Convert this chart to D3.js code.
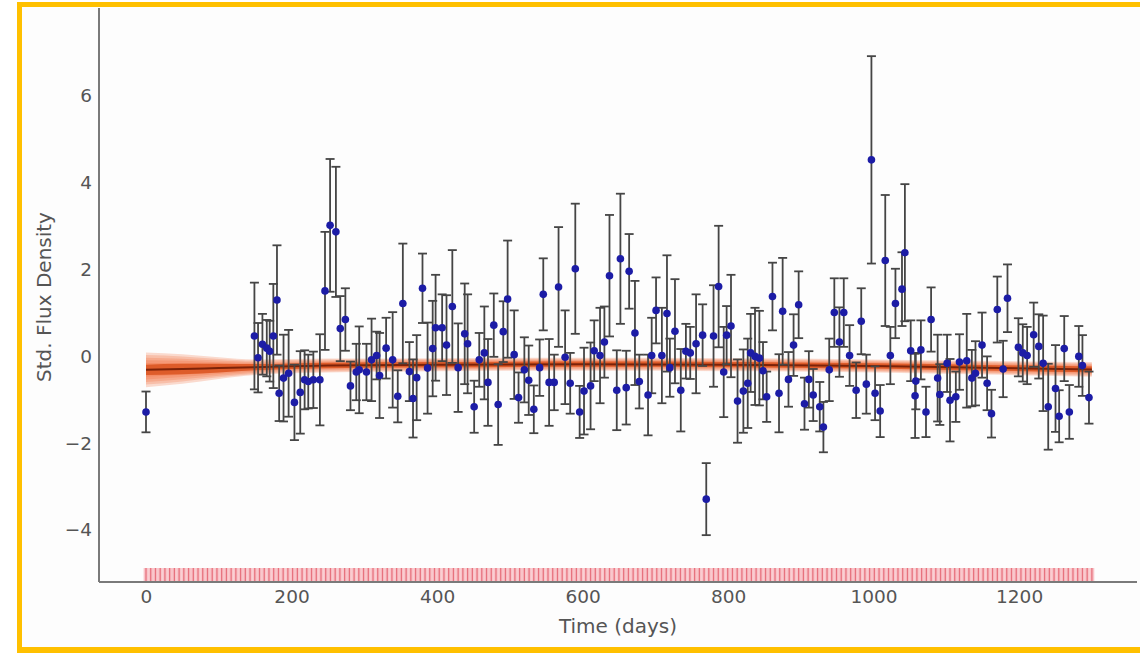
<!DOCTYPE html>
<html><head><meta charset="utf-8">
<script src="https://cdn.jsdelivr.net/npm/d3@7"></script>
<style>html,body{margin:0;padding:0;background:#fff;}svg{display:block;}</style>
</head><body>
<svg id="chart" width="1140" height="653"></svg>
<script>
// ---- data ----
const obsDays = [0,149,154,160,166,170,175,180,183,189,196,204,212,218,223,230,239,246,253,261,267,274,281,289,293,303,310,317,321,330,339,346,353,362,367,372,380,387,394,398,407,413,421,429,438,442,451,458,465,470,478,484,491,497,506,512,520,526,533,541,546,554,561,567,576,583,590,596,602,611,616,624,630,637,647,652,660,664,672,678,690,695,701,709,716,720,727,735,742,748,756,765,770,780,787,794,798,804,813,821,827,831,837,843,848,853,861,870,875,883,890,897,905,911,917,926,931,939,946,953,959,967,976,983,990,997,1002,1009,1016,1023,1030,1039,1043,1051,1057,1058,1065,1072,1079,1088,1091,1101,1105,1113,1118,1128,1135,1140,1149,1156,1162,1170,1178,1184,1199,1205,1211,1220,1227,1233,1240,1250,1255,1262,1269,1282,1287,1296];
const obsFlux = [-1.28,0.47,-0.03,0.28,0.19,0.12,0.47,1.30,-0.85,-0.50,-0.39,-1.06,-0.83,-0.54,-0.58,-0.54,-0.54,1.51,3.02,2.87,0.64,0.85,-0.68,-0.36,-0.31,-0.36,-0.08,0.02,-0.44,0.19,-0.08,-0.92,1.22,-0.35,-0.97,-0.49,1.57,-0.27,0.18,0.66,0.66,0.26,1.15,-0.26,0.52,0.29,-1.16,-0.08,0.08,-0.60,0.72,-1.11,0.57,1.32,0.04,-0.95,-0.31,-0.55,-1.22,-0.26,1.43,-0.60,-0.60,1.60,-0.02,-0.62,2.02,-1.28,-0.80,-0.68,0.13,0.02,0.33,1.86,-0.78,2.25,-0.72,1.96,0.54,-0.58,-0.89,0.02,1.06,0.02,0.99,-0.26,0.58,-0.78,0.12,0.08,0.29,0.49,-3.29,0.47,1.61,-0.36,0.49,0.70,-1.03,-0.80,-0.62,0.08,0.00,-0.04,-0.33,-0.93,1.38,-0.85,1.04,-0.53,0.26,1.19,-1.09,-0.53,-0.89,-1.16,-1.63,-0.31,1.01,0.33,1.01,0.02,-0.78,0.81,-0.64,4.53,-0.85,-1.26,2.21,0.02,1.22,1.55,2.39,0.13,-0.91,-0.57,0.15,-1.28,0.85,-0.50,-0.88,-0.16,-1.01,-0.93,-0.13,-0.10,-0.50,-0.39,0.26,-0.62,-1.32,1.08,-0.29,1.34,0.21,0.08,0.02,0.50,0.23,-0.16,-1.16,-0.74,-1.38,0.18,-1.28,0.00,-0.21,-0.95];
const obsErr = [0.47,1.23,0.80,0.70,0.65,0.70,1.20,1.26,0.64,1.00,1.00,0.87,0.95,0.68,0.62,0.65,1.05,1.36,1.53,1.50,0.75,0.72,0.56,0.65,1.00,0.65,0.95,0.55,0.98,0.70,1.10,0.60,1.38,0.68,0.90,0.98,0.80,1.05,1.10,1.22,0.77,1.15,1.30,1.02,1.16,1.14,0.60,0.62,1.07,1.00,0.73,0.93,0.70,1.35,1.02,0.58,0.75,0.80,0.55,0.65,0.83,1.00,0.64,1.38,1.08,0.70,1.50,0.60,1.00,1.00,0.70,1.10,0.82,1.40,0.92,1.50,0.85,0.86,1.20,0.62,0.93,0.87,0.76,1.10,1.34,0.67,1.20,0.95,0.63,0.60,1.14,0.71,0.83,1.17,1.40,1.04,0.67,1.18,0.96,0.96,1.03,0.90,1.12,1.09,0.66,0.58,0.78,0.90,1.23,0.63,0.71,0.77,0.60,0.65,0.60,0.57,0.58,0.72,0.79,0.80,0.79,0.70,0.64,0.76,0.68,2.39,0.62,0.60,1.51,0.66,0.80,0.85,1.58,0.70,0.97,0.65,0.68,0.58,0.74,1.00,0.70,0.66,0.95,0.58,0.64,1.08,0.65,0.74,0.75,0.62,0.55,0.76,0.65,0.78,0.67,0.66,0.66,0.74,0.74,1.10,0.99,1.00,0.60,0.75,0.62,0.70,0.70,0.60];

// model fit (mean and spread of posterior samples)
const fitDays   = [0, 50, 100, 150, 250, 400, 600, 800, 1000, 1150, 1300];
const fitMean   = [-0.31, -0.29, -0.27, -0.25, -0.21, -0.19, -0.18, -0.19, -0.22, -0.26, -0.30];
const fitSpread = [0.40, 0.34, 0.25, 0.18, 0.16, 0.15, 0.15, 0.15, 0.15, 0.16, 0.17];

// time grid shown as rug along the bottom
const gridDays = [0,6.5,13,19.5,26,32.5,39,45.5,52,58.5,
65,71.5,78,84.5,91,97.5,104,110.5,117,123.5,
130,136.5,143,149.5,156,162.5,169,175.5,182,188.5,
195,201.5,208,214.5,221,227.5,234,240.5,247,253.5,
260,266.5,273,279.5,286,292.5,299,305.5,312,318.5,
325,331.5,338,344.5,351,357.5,364,370.5,377,383.5,
390,396.5,403,409.5,416,422.5,429,435.5,442,448.5,
455,461.5,468,474.5,481,487.5,494,500.5,507,513.5,
520,526.5,533,539.5,546,552.5,559,565.5,572,578.5,
585,591.5,598,604.5,611,617.5,624,630.5,637,643.5,
650,656.5,663,669.5,676,682.5,689,695.5,702,708.5,
715,721.5,728,734.5,741,747.5,754,760.5,767,773.5,
780,786.5,793,799.5,806,812.5,819,825.5,832,838.5,
845,851.5,858,864.5,871,877.5,884,890.5,897,903.5,
910,916.5,923,929.5,936,942.5,949,955.5,962,968.5,
975,981.5,988,994.5,1001,1007.5,1014,1020.5,1027,1033.5,
1040,1046.5,1053,1059.5,1066,1072.5,1079,1085.5,1092,1098.5,
1105,1111.5,1118,1124.5,1131,1137.5,1144,1150.5,1157,1163.5,
1170,1176.5,1183,1189.5,1196,1202.5,1209,1215.5,1222,1228.5,
1235,1241.5,1248,1254.5,1261,1267.5,1274,1280.5,1287,1293.5,
1300];

const xTicks = [0, 200, 400, 600, 800, 1000, 1200];
const yTicks = [-4, -2, 0, 2, 4, 6];
const xLabel = "Time (days)";
const yLabel = "Std. Flux Density";

// ---- drawing ----
const svg = d3.select("#chart");
const W = 1140, H = 653;
const plot = {left: 99, right: 1137, top: 8, bottom: 582};

svg.append("rect").attr("width", W).attr("height", H).attr("fill", "#ffffff");
svg.append("rect").attr("x", 22).attr("y", 7).attr("width", W - 22).attr("height", 640).attr("fill", "#fdfdfd");

const x = d3.scaleLinear().domain([-64.6, 1362]).range([plot.left, plot.right]);
const y = d3.scaleLinear().domain([-5.2, 8.03]).range([plot.bottom, plot.top]);

// fit band
const fit = fitDays.map((d, i) => ({d, m: fitMean[i], s: fitSpread[i]}));
const bandLevels = [1.0, 0.85, 0.7, 0.55, 0.4];
bandLevels.forEach(k => {
  const area = d3.area()
    .x(p => x(p.d))
    .y0(p => y(p.m - k * p.s))
    .y1(p => y(p.m + k * p.s))
    .curve(d3.curveMonotoneX);
  svg.append("path").datum(fit).attr("d", area)
    .attr("fill", "#f0602a").attr("fill-opacity", 0.22);
});
const core = d3.area()
  .x(p => x(p.d))
  .y0(p => y(p.m - Math.min(0.12, p.s * 0.4)))
  .y1(p => y(p.m + Math.min(0.12, p.s * 0.4)))
  .curve(d3.curveMonotoneX);
svg.append("path").datum(fit).attr("d", core)
  .attr("fill", "#d8501c").attr("fill-opacity", 0.8);
const meanLine = d3.line().x(p => x(p.d)).y(p => y(p.m)).curve(d3.curveMonotoneX);
svg.append("path").datum(fit).attr("d", meanLine)
  .attr("fill", "none").attr("stroke", "#7c2208").attr("stroke-width", 2);

// rug
const rugTop = plot.bottom - 14;
const rug = svg.append("g");
rug.selectAll("line.bg").data(gridDays).join("line").attr("class", "bg")
  .attr("x1", d => x(d)).attr("x2", d => x(d))
  .attr("y1", rugTop).attr("y2", plot.bottom)
  .attr("stroke", "#f9c4c9").attr("stroke-width", 4.8);
rug.selectAll("line.fg").data(gridDays).join("line").attr("class", "fg")
  .attr("x1", d => x(d)).attr("x2", d => x(d))
  .attr("y1", rugTop).attr("y2", plot.bottom)
  .attr("stroke", "#e7727e").attr("stroke-width", 1.3);

// error bars
const pts = obsDays.map((d, i) => ({d, v: obsFlux[i], e: obsErr[i]}));
const eb = svg.append("g").attr("stroke", "#454545").attr("stroke-width", 1.8);
pts.forEach(p => {
  const xp = x(p.d), y0 = y(p.v - p.e), y1 = y(p.v + p.e);
  eb.append("line").attr("x1", xp).attr("x2", xp).attr("y1", y0).attr("y2", y1);
  eb.append("line").attr("x1", xp - 4.5).attr("x2", xp + 4.5).attr("y1", y0).attr("y2", y0);
  eb.append("line").attr("x1", xp - 4.5).attr("x2", xp + 4.5).attr("y1", y1).attr("y2", y1);
});

// points
svg.append("g").selectAll("circle").data(pts).join("circle")
  .attr("cx", p => x(p.d)).attr("cy", p => y(p.v)).attr("r", 3.8)
  .attr("fill", "#1c1ca6");

// axes
const axisColor = "#7a7a7a";
const xAxis = svg.append("g").attr("transform", `translate(0,${plot.bottom})`)
  .call(d3.axisBottom(x).tickValues(xTicks).tickSize(0).tickPadding(8).tickFormat(d3.format("d")));
const yAxis = svg.append("g").attr("transform", `translate(${plot.left},0)`)
  .call(d3.axisLeft(y).tickValues(yTicks).tickSize(0).tickPadding(7).tickFormat(d => d < 0 ? "\u2212" + Math.abs(d) : String(d)));
[xAxis, yAxis].forEach(a => {
  a.select(".domain").attr("stroke", axisColor).attr("stroke-width", 2);
  a.selectAll("text").attr("fill", "#555").attr("font-family", "DejaVu Sans, sans-serif").attr("font-size", 18.5);
});
xAxis.select(".domain").attr("d", `M${plot.left},0H${plot.right}`);
yAxis.select(".domain").attr("d", `M0,${plot.top}V${plot.bottom}`);

svg.append("text").attr("x", 618).attr("y", 633).attr("text-anchor", "middle")
  .attr("font-family", "DejaVu Sans, sans-serif").attr("font-size", 20).attr("fill", "#555")
  .text(xLabel);
svg.append("text").attr("transform", "translate(51,297) rotate(-90)").attr("text-anchor", "middle")
  .attr("font-family", "DejaVu Sans, sans-serif").attr("font-size", 20).attr("fill", "#555")
  .text(yLabel);

// frame
const gold = "#ffc000";
svg.append("rect").attr("x", 17).attr("y", 2).attr("width", W - 17).attr("height", 5).attr("fill", gold);
svg.append("rect").attr("x", 17).attr("y", 2).attr("width", 5).attr("height", H - 2).attr("fill", gold);
svg.append("rect").attr("x", 17).attr("y", 647).attr("width", W - 17).attr("height", 6).attr("fill", gold);
</script>
</body></html>
